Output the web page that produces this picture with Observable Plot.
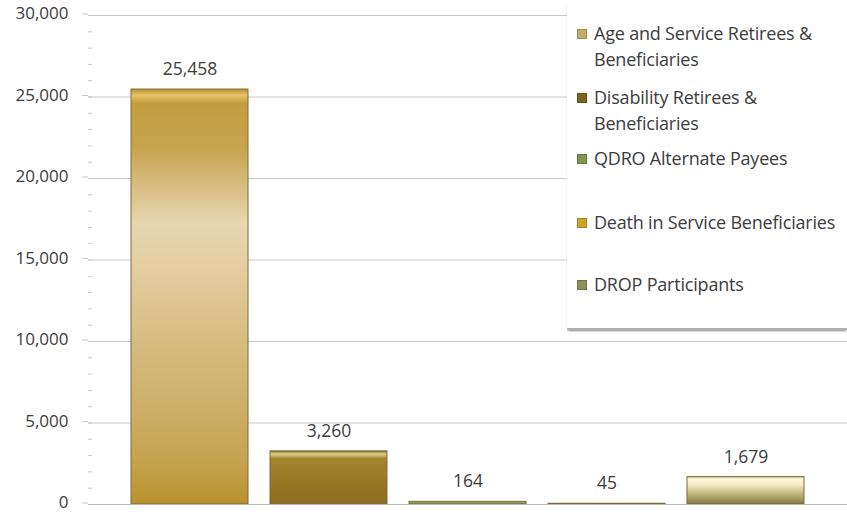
<!DOCTYPE html>
<html>
<head>
<meta charset="utf-8">
<script src="https://cdn.jsdelivr.net/npm/d3@7"></script>
<script src="https://cdn.jsdelivr.net/npm/@observablehq/plot@0.6"></script>
<style>
  html, body { margin: 0; padding: 0; background: #fff; }
  #wrap { position: relative; width: 847px; height: 514px; font-family: "Open Sans", sans-serif; }
  #legend { position: absolute; left: 567px; top: 0; width: 280px; height: 328px; background: #fff;
            border-bottom: 2px solid #b0b0b0; box-shadow: 0 2px 2px -1px #888; }
  .item { position: absolute; left: 27px; font-size: 18px; line-height: 26px; color: #3c3c3c; white-space: nowrap; letter-spacing: -0.2px; }
  .sw { position: absolute; left: 10px; width: 8px; height: 8px; }
</style>
</head>
<body>
<div id="wrap"><div id="legend"></div></div>
<script>
const categories = [
  "Age and Service Retirees & Beneficiaries",
  "Disability Retirees & Beneficiaries",
  "QDRO Alternate Payees",
  "Death in Service Beneficiaries",
  "DROP Participants"
];
const values = [25458, 3260, 164, 45, 1679];
const yTicks = [0, 5000, 10000, 15000, 20000, 25000, 30000];
const legendLines = [
  ["Age and Service Retirees &", "Beneficiaries"],
  ["Disability Retirees &", "Beneficiaries"],
  ["QDRO Alternate Payees"],
  ["Death in Service Beneficiaries"],
  ["DROP Participants"]
];
const swatchColors = ["#c4ad6a", "#7a6422", "#7f9552", "#cfa22a", "#8c9158"];

const data = categories.map((c, i) => ({cat: c, value: values[i]}));
const minorTicks = d3.range(0, 30001, 1000);

const chart = Plot.plot({
  width: 847,
  height: 514,
  marginLeft: 88,
  marginRight: 0,
  marginTop: 15,
  marginBottom: 10,
  style: {fontFamily: "Open Sans, sans-serif", fontSize: "17.5px", color: "#3c3c3c", background: "transparent"},
  x: {domain: categories, paddingInner: 0.157, paddingOuter: 0.29, axis: null},
  y: {domain: [0, 30000]},
  marks: [
    Plot.gridY(yTicks, {stroke: "#c8c8c8", strokeOpacity: 1}),
    Plot.axisY(yTicks, {tickFormat: d3.format(","), tickSize: 6, tickPadding: 14, stroke: "#c8c8c8", fill: "#3c3c3c", fontSize: 17, dy: -1.5, label: null}),
    Plot.axisY(minorTicks, {tickSize: -4, text: null, stroke: "#c8c8c8", label: null}),
    Plot.ruleX([0], {frameAnchor: "left", stroke: "#c0c0c0", y1: 0, y2: 30000}),
    Plot.barY(data, {x: "cat", y: "value", fill: "#c8a048", stroke: "#7a6a3a", strokeWidth: 1, className: "bars"}),
    Plot.ruleY([0], {stroke: "#b8b8b8"}),
    Plot.text(data, {x: "cat", y: "value", text: d => d3.format(",")(d.value), dy: -20, fill: "#3c3c3c", fontSize: 17.5})
  ]
});

const svg = d3.select(chart);
const defs = svg.insert("defs", ":first-child");
const grads = [
  [[0, "#b89030"], [0.015, "#e6c468"], [0.035, "#c29c40"], [0.14, "#c6a44e"], [0.25, "#dac08a"], [0.32, "#e8d6b0"], [0.45, "#e2cc9e"], [0.65, "#d4b87a"], [0.88, "#c6a654"], [1, "#b8922c"]],
  [[0, "#8c6e20"], [0.06, "#e0d090"], [0.14, "#a4862e"], [0.5, "#9a7a26"], [1, "#8c6c1e"]],
  [[0, "#a4b27a"], [1, "#7d8f4c"]],
  [[0, "#c8b060"], [1, "#a08a3a"]],
  [[0, "#c4bc88"], [0.08, "#fdfbe0"], [0.3, "#f2ecc0"], [0.65, "#bcb27a"], [1, "#857a46"]]
];
grads.forEach((stops, i) => {
  const g = defs.append("linearGradient").attr("id", "bg" + i)
    .attr("x1", 0).attr("y1", 0).attr("x2", 0).attr("y2", 1);
  stops.forEach(([o, c]) => g.append("stop").attr("offset", o).attr("stop-color", c));
});
svg.selectAll(".bars rect").attr("fill", (d, i) => `url(#bg${i})`);

const wrap = document.getElementById("wrap");
wrap.insertBefore(chart, wrap.firstChild);

const legend = d3.select("#legend");
const tops = [20, 84, 145, 209, 271];
legendLines.forEach((lines, i) => {
  legend.append("div").attr("class", "item").style("top", tops[i] + "px")
    .html(lines.join("<br>"));
  legend.append("div").attr("class", "sw")
    .style("top", (tops[i] + 9) + "px")
    .style("background", swatchColors[i])
    .style("border", "0.5px solid " + d3.color(swatchColors[i]).darker(0.6));
});
</script>
</body>
</html>
